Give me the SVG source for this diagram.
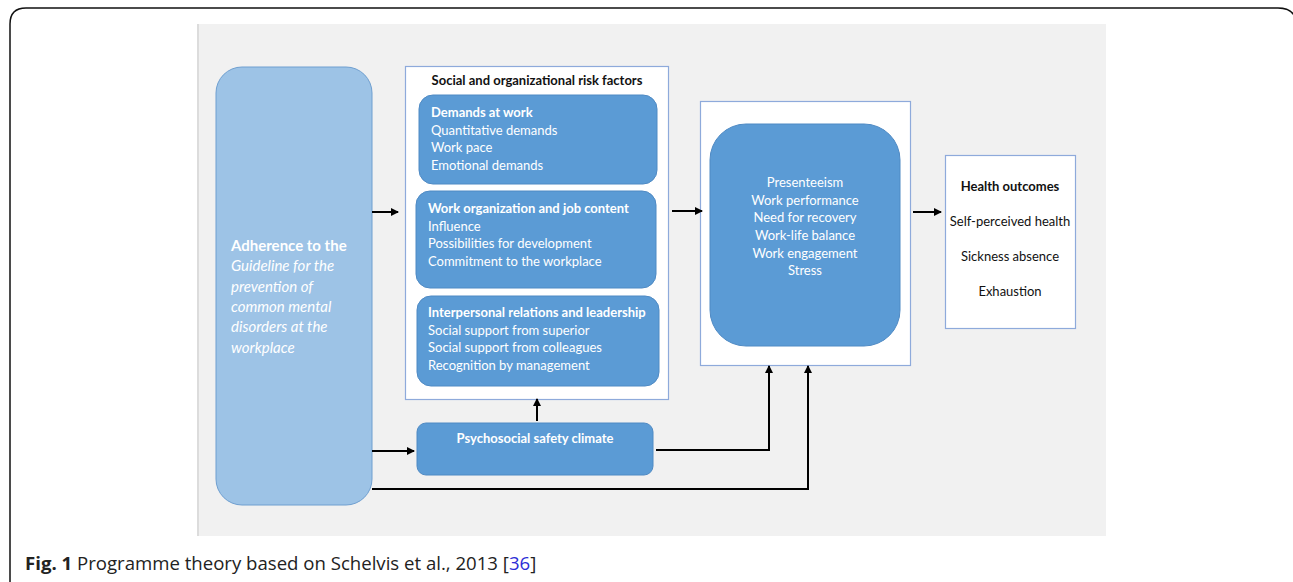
<svg xmlns="http://www.w3.org/2000/svg" width="1293" height="582" viewBox="0 0 1293 582">
<style>
.t{font-family:Lato,"Open Sans","Liberation Sans",sans-serif;font-size:13px;fill:#ffffff}
.b{font-weight:bold}
.k{fill:#111111}
.a{font-size:15px}
.box{fill:#5b9bd5;stroke:#4f8ac4;stroke-width:1}
.frame{fill:#ffffff;stroke:#8eaadb;stroke-width:1.2}
.c{fill:none;stroke:#000;stroke-width:2}
</style>
<defs>
<marker id="ah" markerWidth="9" markerHeight="9" refX="7" refY="4.5" orient="auto" markerUnits="userSpaceOnUse">
<path d="M0,0.5 L8,4.5 L0,8.5 z" fill="#000"/>
</marker>
</defs>
<rect x="0" y="0" width="1293" height="582" fill="#ffffff"/>
<path d="M10,590 L10,24 Q10,8 26,8 L1278,8 Q1293,8 1296,20" fill="none" stroke="#111" stroke-width="1.5"/>
<rect x="197" y="24" width="909" height="512" fill="#f1f1f1"/>
<line x1="198" y1="24" x2="198" y2="536" stroke="#dcdcdc" stroke-width="2"/>

<g id="adherence">
<rect x="216" y="67" width="156" height="438" rx="26" fill="#9dc3e6" stroke="#6f9fd0" stroke-width="1"/>
<text class="t b a" x="231" y="251">Adherence to the</text>
<text class="t a" x="231" y="271" font-style="italic" fill="#eef4fb">Guideline for the</text>
<text class="t a" x="231" y="292" font-style="italic" fill="#eef4fb">prevention of</text>
<text class="t a" x="231" y="312" font-style="italic" fill="#eef4fb">common mental</text>
<text class="t a" x="231" y="332" font-style="italic" fill="#eef4fb">disorders at the</text>
<text class="t a" x="231" y="353" font-style="italic" fill="#eef4fb">workplace</text>
</g>

<g id="risk-factors">
<rect class="frame" x="405.5" y="66.5" width="263" height="333"/>
<text class="t b k" x="537" y="85" text-anchor="middle" font-size="12.5">Social and organizational risk factors</text>
</g>
<g id="demands">
<rect class="box" x="419" y="95" width="238" height="89" rx="14"/>
<text class="t b" x="431" y="117">Demands at work</text>
<text class="t" x="431" y="135">Quantitative demands</text>
<text class="t" x="431" y="152">Work pace</text>
<text class="t" x="431" y="170">Emotional demands</text>
</g>
<g id="work-organization">
<rect class="box" x="416" y="191" width="240" height="97" rx="14"/>
<text class="t b" x="428" y="213">Work organization and job content</text>
<text class="t" x="428" y="231">Influence</text>
<text class="t" x="428" y="248">Possibilities for development</text>
<text class="t" x="428" y="266">Commitment to the workplace</text>
</g>
<g id="interpersonal">
<rect class="box" x="417" y="296" width="242" height="90" rx="14"/>
<text class="t b" x="428" y="317">Interpersonal relations and leadership</text>
<text class="t" x="428" y="335">Social support from superior</text>
<text class="t" x="428" y="352">Social support from colleagues</text>
<text class="t" x="428" y="370">Recognition by management</text>
</g>

<g id="psychosocial">
<rect class="box" x="417" y="423" width="236" height="52" rx="9"/>
<text class="t b" x="535" y="443" text-anchor="middle" font-size="12.5">Psychosocial safety climate</text>
</g>

<g id="outcomes-mid">
<rect class="frame" x="700.5" y="101.5" width="210" height="264"/>
<rect class="box" x="710" y="124" width="190" height="222" rx="36"/>
<text class="t" x="805" y="187" text-anchor="middle">Presenteeism</text>
<text class="t" x="805" y="205" text-anchor="middle">Work performance</text>
<text class="t" x="805" y="222" text-anchor="middle">Need for recovery</text>
<text class="t" x="805" y="240" text-anchor="middle">Work-life balance</text>
<text class="t" x="805" y="258" text-anchor="middle">Work engagement</text>
<text class="t" x="805" y="275" text-anchor="middle">Stress</text>
</g>

<g id="health-outcomes">
<rect class="frame" x="945.5" y="155.5" width="130" height="173"/>
<text class="t b k" x="1010" y="191" text-anchor="middle">Health outcomes</text>
<text class="t k" x="1010" y="226" text-anchor="middle">Self-perceived health</text>
<text class="t k" x="1010" y="261" text-anchor="middle">Sickness absence</text>
<text class="t k" x="1010" y="296" text-anchor="middle">Exhaustion</text>
</g>

<g id="connectors">
<path class="c" d="M372,212 L398,212" marker-end="url(#ah)"/>
<path class="c" d="M672,211 L702,211" marker-end="url(#ah)"/>
<path class="c" d="M913,212 L941,212" marker-end="url(#ah)"/>
<path class="c" d="M372,451 L414,451" marker-end="url(#ah)"/>
<path class="c" d="M537,421 L537,399" marker-end="url(#ah)"/>
<path class="c" d="M656,450 L769,450 L769,366" marker-end="url(#ah)"/>
<path class="c" d="M372,489 L808,489 L808,366" marker-end="url(#ah)"/>
</g>

<g id="caption">
<text x="25" y="570" font-family="'Open Sans','Noto Sans','Liberation Sans',sans-serif" font-size="18.6" fill="#222"><tspan font-weight="bold">Fig. 1</tspan> Programme theory based on Schelvis et al., 2013 [<tspan fill="#2d2dd6">36</tspan>]</text>
</g>
</svg>
